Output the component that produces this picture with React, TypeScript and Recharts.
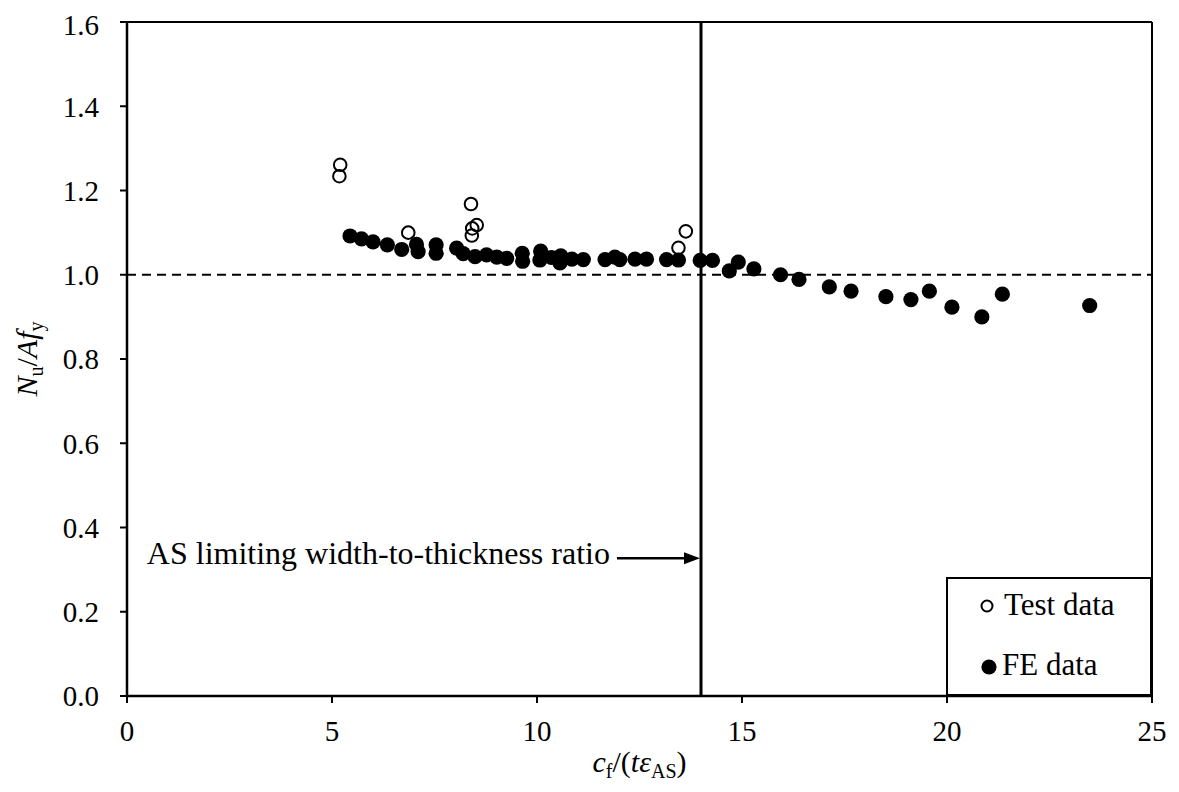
import React from 'react';
import { ScatterChart, Scatter, XAxis, YAxis, ReferenceLine, Legend, Label } from 'recharts';

// ---- data ----
const testX = [5.20, 5.18, 6.86, 8.39, 8.53, 8.42, 8.41, 13.63, 13.45];
const testY = [1.261, 1.234, 1.100, 1.168, 1.118, 1.110, 1.093, 1.103, 1.064];

const feX = [5.44, 5.72, 6.00, 6.35, 6.70, 7.06, 7.10, 7.54, 7.54, 8.04, 8.20, 8.49, 8.77, 9.02, 9.26, 9.64, 9.65,
  10.09, 10.07, 10.35, 10.58, 10.56, 10.85, 11.13, 11.66, 11.90, 12.02, 12.39, 12.67, 13.16, 13.45, 13.98, 14.28,
  14.69, 14.91, 15.29, 15.94, 16.39, 17.13, 17.66, 18.51, 19.12, 19.57, 20.12, 20.85, 21.35, 23.48];
const feY = [1.092, 1.085, 1.078, 1.071, 1.060, 1.072, 1.055, 1.071, 1.051, 1.063, 1.050, 1.043, 1.047, 1.042, 1.039, 1.051, 1.032,
  1.056, 1.035, 1.041, 1.045, 1.028, 1.037, 1.036, 1.036, 1.042, 1.036, 1.037, 1.037, 1.036, 1.035, 1.034, 1.034,
  1.009, 1.030, 1.014, 1.000, 0.989, 0.971, 0.961, 0.948, 0.941, 0.961, 0.923, 0.900, 0.954, 0.927];

const xTicks = [0, 5, 10, 15, 20, 25];
const yTicks = [0, 0.2, 0.4, 0.6, 0.8, 1.0, 1.2, 1.4, 1.6];
const seriesNames = ['Test data', 'FE data'];
const limitRatio = 14;
const unityRatio = 1.0;
const annotationText = 'AS limiting width-to-thickness ratio';
const arrowFrom = { x: 11.95, y: 0.327 };

const testData = testX.map((x, i) => ({ x, y: testY[i] }));
const feData = feX.map((x, i) => ({ x, y: feY[i] }));

const FONT = '"Liberation Serif", "Times New Roman", serif';

const TestShape = (p: any) => (
  <circle cx={p.cx} cy={p.cy} r={6.3} fill="none" stroke="#000" strokeWidth={2} />
);
const FeShape = (p: any) => <circle cx={p.cx} cy={p.cy} r={7.6} fill="#000" />;

const ArrowShape = (p: any) => {
  const { x1, y1, x2, y2 } = p;
  const head = 17;
  return (
    <g>
      <line x1={x1} y1={y1} x2={x2 - head + 2} y2={y2} stroke="#000" strokeWidth={2.5} />
      <polygon points={`${x2 - 1},${y2} ${x2 - head},${y2 - 6} ${x2 - head},${y2 + 6}`} fill="#000" />
      <text x={x1 - 7} y={y1 + 6} textAnchor="end" fontFamily={FONT} fontSize={32} fill="#000">
        {annotationText}
      </text>
    </g>
  );
};

const LegendBox = () => (
  <svg width={206} height={119} style={{ display: 'block' }}>
    <rect x={1} y={1} width={204} height={117} fill="#fff" stroke="#000" strokeWidth={2} />
    <circle cx={41} cy={29} r={5.5} fill="none" stroke="#000" strokeWidth={2} />
    <text x={58} y={38} fontFamily={FONT} fontSize={31} fill="#000">{seriesNames[0]}</text>
    <circle cx={43} cy={90} r={7.6} fill="#000" />
    <text x={56} y={98} fontFamily={FONT} fontSize={31} fill="#000">{seriesNames[1]}</text>
  </svg>
);

const XLabel = (props: any) => {
  const vb = props.viewBox || { x: 119, y: 688, width: 1025 };
  const cx = vb.x + vb.width / 2;
  return (
    <text x={cx} y={764} textAnchor="middle" fontFamily={FONT} fontSize={30} fill="#000">
      <tspan fontStyle="italic">c</tspan>
      <tspan fontSize={20} dy={6}>f</tspan>
      <tspan dy={-6}>/(</tspan>
      <tspan fontStyle="italic">tε</tspan>
      <tspan fontSize={20} dy={6}>AS</tspan>
      <tspan dy={-6}>)</tspan>
    </text>
  );
};

const YLabel = (props: any) => {
  const vb = props.viewBox || { x: 19, y: 14, height: 674 };
  const cy = vb.y + vb.height / 2;
  const bx = 29;
  return (
    <text x={bx} y={cy} transform={`rotate(-90, ${bx}, ${cy})`} textAnchor="middle" fontFamily={FONT} fontSize={30} fill="#000">
      <tspan fontStyle="italic">N</tspan>
      <tspan fontSize={20} dy={6}>u</tspan>
      <tspan dy={-6}>/</tspan>
      <tspan fontStyle="italic">Af</tspan>
      <tspan fontSize={20} dy={6}>y</tspan>
    </text>
  );
};

export default function App() {
  return (
    <ScatterChart width={1171} height={784} margin={{ top: 14, right: 27, left: 19, bottom: 16 }}>
      <XAxis
        type="number"
        dataKey="x"
        domain={[0, 25]}
        ticks={xTicks}
        allowDataOverflow
        height={80}
        tickSize={7}
        tickMargin={17}
        axisLine={{ stroke: '#000', strokeWidth: 2.5 }}
        tickLine={{ stroke: '#000', strokeWidth: 2 }}
        tick={{ fill: '#000', fontSize: 29, fontFamily: FONT }}
      >
        <Label content={XLabel} />
      </XAxis>
      <YAxis
        type="number"
        dataKey="y"
        domain={[0, 1.6]}
        ticks={yTicks}
        allowDataOverflow
        width={100}
        tickSize={7}
        tickMargin={21}
        tickFormatter={(v: number) => v.toFixed(1)}
        axisLine={{ stroke: '#000', strokeWidth: 2.5 }}
        tickLine={{ stroke: '#000', strokeWidth: 2 }}
        tick={{ fill: '#000', fontSize: 29, fontFamily: FONT }}
      >
        <Label content={YLabel} />
      </YAxis>
      <ReferenceLine y={1.6} stroke="#000" strokeWidth={2} />
      <ReferenceLine x={25} stroke="#000" strokeWidth={2} />
      <ReferenceLine y={unityRatio} stroke="#000" strokeWidth={2} strokeDasharray="9 6" />
      <ReferenceLine x={limitRatio} stroke="#000" strokeWidth={3} />
      <ReferenceLine
        segment={[arrowFrom, { x: limitRatio, y: arrowFrom.y }]}
        shape={ArrowShape}
      />
      <Scatter name={seriesNames[0]} data={testData} shape={TestShape} isAnimationActive={false} />
      <Scatter name={seriesNames[1]} data={feData} shape={FeShape} isAnimationActive={false} />
      <Legend
        layout="horizontal"
        verticalAlign="middle"
        align="center"
        content={LegendBox}
        wrapperStyle={{ position: 'absolute', left: 938, top: 569, width: 206, height: 119 }}
      />
    </ScatterChart>
  );
}
